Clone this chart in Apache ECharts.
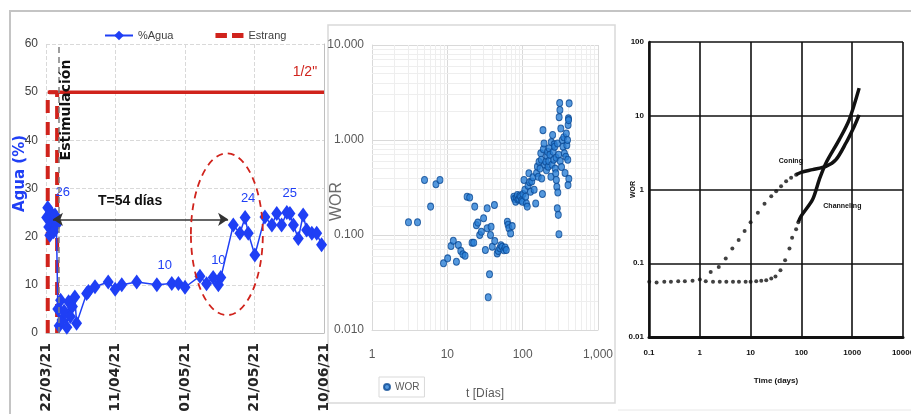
<!DOCTYPE html>
<html>
<head>
<meta charset="utf-8">
<script src="https://cdn.jsdelivr.net/npm/echarts@6/dist/echarts.min.js"></script>
<style>
  html, body { margin: 0; padding: 0; background: #ffffff; }
  #c { width: 911px; height: 414px; }
</style>
</head>
<body>
<div id="c"></div>
<script>
// ---------- Panel 1: % de agua vs fecha ----------
const fechaInicio = Date.UTC(2021, 2, 22);          // 22/03/21 = día 0
const ticksDias = [0, 20, 40, 60, 80];

const aguaDia = [0.2, 0.5, 0.8, 1.1, 1.4, 1.8, 2.2, 2.6, 3.0,
  3.4, 3.8, 4.2, 4.6, 5.2, 6.0, 6.5, 7.0, 7.6, 8.3, 8.8,
  11.7, 12.2, 14.1, 17.9, 19.9, 21.8, 26.1, 31.9, 36.2, 38.1, 40.0,
  44.3, 46.2, 48.1, 49.6, 50.3,
  53.9, 55.8, 57.3, 58.2, 60.1, 63.0, 65.0, 66.4, 67.8, 69.3, 70.2,
  71.2, 72.6, 74.0, 75.0, 76.5, 77.9, 79.3];
const aguaPct = [24, 26, 22, 20.3, 25, 23, 21, 24.5, 22.5,
  5, 1.5, 6.8, 2.7, 4.5, 1.2, 6.5, 3.4, 5.5, 7.5, 2,
  8.2, 8.6, 9.6, 10.6, 9.1, 10, 10.6, 10, 10.3, 10.3, 9.5,
  11.8, 10.2, 11.5, 10, 11.5,
  22.4, 20.7, 24, 20.7, 16.2, 24.1, 22.4, 24.8, 22.4, 25, 24.8,
  22.4, 19.6, 24.5, 21.4, 20.7, 20.7, 18.3];
// puntos rotulados con su valor
const aguaRotulados = [1, 27, 34, 38, 45];

// Estrangulador: bajada escalonada y tramo de 1/2"
const estrangDia = [0.5, 0.5, 3.2, 3.2];
const estrangVal = [0, 50, 50, 0];
const estrang12Dia = [0.5, 80];
const estrang12Val = [50, 50];
const diaEstimulacion = 3.8;
const flechaT = { desde: [2.0, 23.6], hasta: [52.4, 23.6], texto: 'T=54 días', pos: [24.2, 27.3] };
const elipse = { diaMin: 41.7, diaMax: 62.4, valMin: 3.7, valMax: 37.3 };

// ---------- Panel 2: WOR vs t [Días] ----------
const worT = [3.05, 4.02, 4.98, 6.0, 7.06, 7.98,
  8.9, 10.1, 11.2, 12.0, 13.2, 14.0, 15.1, 16.1, 17.2,
  18.3, 19.8, 21.3, 22.4, 23.1, 24.3, 25.4, 26.9, 28.3, 30.3, 32.0, 33.8, 33.8, 36.3, 34.9,
  37.4, 38.1, 39.5, 42.2, 42.6, 45.9, 47.5, 49.8, 51.5, 53.4, 56.4, 58.5, 60.6, 62.6, 64.0,
  65.8, 69.2, 72.6,
  76.3, 78, 80.8, 83, 85.1, 87, 89.6, 92, 94.2, 97, 99.1, 101, 104, 107, 109.6, 112, 115,
  118, 121, 124, 127, 132, 137, 142, 149, 153, 157, 161, 165, 170, 174, 177, 179, 183,
  186, 188, 192, 196, 203, 207, 210, 214, 218, 222, 225, 230, 237, 240, 245, 250, 254,
  258, 262, 266, 270, 275, 278, 280, 284, 288, 290, 293, 297, 300, 303, 305, 310, 312,
  315, 321, 328, 336, 344, 352, 358, 365, 374, 380, 386, 394, 397, 401, 405, 407, 414,
  410, 400];
const worVal = [0.136, 0.136, 0.38, 0.199, 0.342, 0.38,
  0.0504, 0.0568, 0.0766, 0.087, 0.0523, 0.0785, 0.068, 0.0627, 0.0606,
  0.253, 0.248, 0.083, 0.083, 0.199, 0.127, 0.135, 0.1, 0.108, 0.15, 0.0695, 0.191, 0.118, 0.0386, 0.0221,
  0.1, 0.122, 0.0752, 0.207, 0.0865, 0.064, 0.068, 0.0725, 0.078, 0.0752, 0.069, 0.074, 0.0695, 0.138, 0.128,
  0.118, 0.104, 0.124,
  0.253, 0.24, 0.224, 0.25, 0.264, 0.235, 0.24, 0.26, 0.253, 0.232, 0.224, 0.27, 0.38, 0.3, 0.253, 0.215, 0.199,
  0.33, 0.446, 0.36, 0.285, 0.366, 0.405, 0.3, 0.215, 0.45, 0.524, 0.41, 0.59, 0.5, 0.724, 0.62, 0.394, 0.27,
  1.27, 0.8, 0.92, 0.55, 0.59, 0.48, 0.68, 0.75, 0.524, 0.6, 0.818, 0.7, 0.41, 0.95, 0.55, 1.13, 0.75,
  0.62, 0.9, 0.85, 0.5, 0.446, 0.65, 0.38, 0.322, 0.191, 0.92, 0.28, 0.163, 0.7, 0.102, 1.74, 2.45, 2.07,
  0.6, 1.32, 0.52, 1.0, 0.85, 1.07, 0.724, 0.45, 0.667, 1.17, 0.88, 1.0, 0.62, 1.44, 1.69, 1.62, 2.43,
  0.39, 0.335];
// líneas secundarias de la rejilla logarítmica (2..9 de cada década)
const worRejillaX = [2, 3, 4, 5, 6, 7, 8, 9, 20, 30, 40, 50, 60, 70, 80, 90, 200, 300, 400, 500, 600, 700, 800, 900];
const worRejillaY = [0.02, 0.03, 0.04, 0.05, 0.06, 0.07, 0.08, 0.09, 0.2, 0.3, 0.4, 0.5, 0.6, 0.7, 0.8, 0.9, 2, 3, 4, 5, 6, 7, 8, 9];

// ---------- Panel 3: curvas tipo (Coning / Channeling) ----------
const chanPuntosT = [0.101, 0.141, 0.2, 0.27, 0.376, 0.508, 0.72, 1.0, 1.31, 1.82, 2.47, 3.33, 4.5, 5.9,
  7.98, 10, 12.9, 16.2, 20.3, 25.5, 30.9, 38.7, 47.8, 58.2, 65.6, 78.7, 87];
const chanPuntosW = [0.056, 0.055, 0.056, 0.056, 0.057, 0.057, 0.058, 0.06, 0.057, 0.056, 0.056, 0.056, 0.056, 0.056,
  0.056, 0.056, 0.057, 0.058, 0.059, 0.0622, 0.066, 0.0806, 0.11, 0.158, 0.222, 0.288, 0.361];
const chanCurvaT = [87, 98.6, 166, 225, 305, 556, 871, 1370];
const chanCurvaW = [0.361, 0.436, 0.732, 1.365, 2.29, 4.74, 8.8, 23.7];
const conPuntosT = [1.64, 2.36, 3.24, 4.37, 5.82, 7.62, 10, 13.9, 18.8, 25.5, 31.9, 39.8, 50, 62.7, 78.7];
const conPuntosW = [0.0763, 0.089, 0.116, 0.158, 0.207, 0.274, 0.361, 0.484, 0.64, 0.812, 0.95, 1.11, 1.29, 1.44, 1.59];
const conCurvaT = [78.7, 98.6, 166, 305, 479, 752, 1094, 1370];
const conCurvaW = [1.59, 1.71, 1.86, 2.06, 2.54, 4.27, 7.17, 10.3];
const rotuloConing = [62, 2.45];
const rotuloChanneling = [640, 0.6];

const SANS = "'Liberation Sans Narrow','Liberation Sans',Arial,sans-serif";
const AZUL = '#1f3ff5';
const ROJO = '#d0231c';

const pares = (xs, ys) => xs.map((x, i) => [x, ys[i]]);
const dos = n => (n < 10 ? '0' : '') + n;
const diaAFecha = d => {
  const t = new Date(fechaInicio + d * 86400000);
  return dos(t.getUTCDate()) + '/' + dos(t.getUTCMonth() + 1) + '/' + String(t.getUTCFullYear()).slice(2);
};

const rotuloOffset = { 1: [15, 4], 27: [8, 0], 34: [0, -5], 38: [3, 0], 45: [3, 0] };
const aguaData = aguaDia.map((d, i) => {
  const item = { value: [d, aguaPct[i]] };
  if (aguaRotulados.includes(i)) {
    item.label = {
      show: true, position: 'top', offset: rotuloOffset[i],
      formatter: p => String(p.value[1]),
      color: AZUL, fontSize: 13, fontFamily: SANS
    };
  }
  return item;
});

const chart = echarts.init(document.getElementById('c'));

const logFmt3 = v => v >= 1000 ? '1,000' : String(v);

chart.setOption({
  animation: false,
  backgroundColor: '#ffffff',
  textStyle: { fontFamily: SANS },
  grid: [
    { left: 46, top: 44, width: 278, height: 289, outerBoundsMode: 'none', containLabel: false },
    { left: 372, top: 45, width: 226, height: 285, outerBoundsMode: 'none', containLabel: false },
    { left: 649, top: 42, width: 254, height: 295, outerBoundsMode: 'none', containLabel: false }
  ],
  legend: [
    {
      data: [
        { name: '%Agua' },
        { name: 'Estrang', icon: 'path://M0,0H9V4H0Z M13,0H22V4H13Z', itemStyle: { color: ROJO } }
      ],
      left: 99, top: 25, itemGap: 42, itemWidth: 28, itemHeight: 12,
      textStyle: { color: '#404040', fontSize: 11, fontFamily: SANS }, selectedMode: false
    },
    {
      data: ['WOR'], left: 379, top: 377, itemWidth: 6, itemHeight: 8, padding: [5, 5, 5, 4],
      borderColor: '#d9d9d9', borderWidth: 1, icon: 'circle', itemGap: 4,
      textStyle: { color: '#595959', fontSize: 10, fontFamily: SANS }, selectedMode: false
    }
  ],
  xAxis: [
    {
      gridIndex: 0, type: 'value', min: 0, max: 80, interval: 20,
      axisLine: { show: true, lineStyle: { color: '#bfbfbf' } },
      axisTick: { show: false },
      splitLine: { show: true, lineStyle: { color: '#d9d9d9', type: 'dashed' } },
      axisLabel: {
        rotate: 90, margin: 10, fontSize: 14, fontWeight: 'bold', color: '#262626',
        fontFamily: "'DejaVu Sans',sans-serif", formatter: v => diaAFecha(v)
      }
    },
    {
      gridIndex: 1, type: 'log', logBase: 10, min: 1, max: 1000,
      axisLine: { show: true, lineStyle: { color: '#d9d9d9' } },
      axisTick: { show: false },
      splitLine: { show: true, lineStyle: { color: '#d9d9d9' } },
      axisLabel: { margin: 19, fontSize: 12, color: '#595959', fontFamily: SANS, formatter: logFmt3 },
      name: 't [Días]', nameLocation: 'middle', nameGap: 58, nameMoveOverlap: false,
      nameTextStyle: { color: '#595959', fontSize: 12, fontFamily: SANS }
    },
    {
      gridIndex: 2, type: 'log', logBase: 10, min: 0.1, max: 10000,
      axisLine: { show: true, lineStyle: { color: '#111', width: 3 } },
      axisTick: { show: false },
      splitLine: { show: true, lineStyle: { color: '#111', width: 1.6 } },
      axisLabel: {
        margin: 12, fontSize: 8, fontWeight: 'bold', color: '#111', fontFamily: SANS,
        formatter: v => String(v)
      },
      name: 'Time (days)', nameLocation: 'middle', nameGap: 40, nameMoveOverlap: false,
      nameTextStyle: { color: '#111', fontSize: 8, fontWeight: 'bold', fontFamily: SANS }
    }
  ],
  yAxis: [
    {
      gridIndex: 0, type: 'value', min: 0, max: 60, interval: 10,
      axisLine: { show: false }, axisTick: { show: false },
      splitLine: { show: true, lineStyle: { color: '#d9d9d9', type: 'dashed' } },
      axisLabel: { margin: 8, fontSize: 12, color: '#404040', fontFamily: SANS },
      name: 'Agua (%)', nameLocation: 'middle', nameGap: 18, nameRotate: 90, nameMoveOverlap: false,
      nameTextStyle: { color: AZUL, fontSize: 15, fontWeight: 'bold', fontFamily: "'DejaVu Sans',sans-serif", padding: [0, 0, 0, 30] }
    },
    {
      gridIndex: 0, type: 'value', min: 0, max: 60, interval: 10, position: 'right',
      axisLine: { show: true, lineStyle: { color: '#bfbfbf' } },
      axisTick: { show: false }, axisLabel: { show: false }, splitLine: { show: false }
    },
    {
      gridIndex: 1, type: 'log', logBase: 10, min: 0.01, max: 10,
      axisLine: { show: true, lineStyle: { color: '#d9d9d9' } },
      axisTick: { show: false },
      splitLine: { show: true, lineStyle: { color: '#d9d9d9' } },
      axisLabel: { margin: 8, fontSize: 12, color: '#595959', fontFamily: SANS, formatter: v => v.toFixed(3) },
      name: 'WOR', nameLocation: 'middle', nameGap: 27, nameRotate: 90, nameMoveOverlap: false,
      nameTextStyle: { color: '#6b6b6b', fontSize: 16, fontFamily: SANS, padding: [0, 28, 0, 0] }
    },
    {
      gridIndex: 2, type: 'log', logBase: 10, min: 0.01, max: 100,
      axisLine: { show: true, lineStyle: { color: '#111', width: 2.5 } },
      axisTick: { show: false },
      splitLine: { show: true, lineStyle: { color: '#111', width: 1.6 } },
      axisLabel: { margin: 5, fontSize: 8, fontWeight: 'bold', color: '#111', fontFamily: SANS, formatter: v => String(v) },
      name: 'WOR', nameLocation: 'middle', nameGap: 12, nameRotate: 90, nameMoveOverlap: false,
      nameTextStyle: { color: '#111', fontSize: 7, fontWeight: 'bold', fontFamily: SANS }
    }
  ],
  series: [
    // Estrangulador (escalón)
    {
      name: 'Estrang', type: 'line', xAxisIndex: 0, yAxisIndex: 0,
      data: pares(estrangDia, estrangVal), symbol: 'none',
      lineStyle: { color: ROJO, width: 4, type: [13, 9] }, itemStyle: { color: ROJO }, z: 3
    },
    // Estrangulador 1/2"
    {
      name: '1/2"', type: 'line', xAxisIndex: 0, yAxisIndex: 0,
      data: pares(estrang12Dia, estrang12Val), symbol: 'none',
      lineStyle: { color: ROJO, width: 3.5 }, itemStyle: { color: ROJO }, z: 3,
      markLine: {
        silent: true, symbol: 'none', label: { show: false },
        lineStyle: { color: '#7f7f7f', type: [6, 4], width: 1.5 },
        data: [{ xAxis: diaEstimulacion }]
      },
      markPoint: {
        symbol: 'circle', symbolSize: 0, silent: true,
        data: [
          {
            coord: [74.5, 54.1],
            label: { show: true, position: 'inside', formatter: '1/2"', color: ROJO, fontSize: 14, fontFamily: SANS }
          },
          {
            coord: [5.8, 46.3],
            label: {
              show: true, position: 'inside', formatter: 'Estimulación', rotate: 90,
              color: '#111', fontSize: 14, fontWeight: 'bold', fontFamily: "'DejaVu Sans',sans-serif"
            }
          }
        ]
      }
    },
    // %Agua
    {
      name: '%Agua', type: 'line', xAxisIndex: 0, yAxisIndex: 0,
      data: aguaData, symbol: 'diamond', symbolSize: [11, 15],
      lineStyle: { color: AZUL, width: 1.5 }, itemStyle: { color: AZUL }, z: 4,
      markLine: {
        silent: true, symbol: ['arrow', 'arrow'], symbolSize: [10, 10],
        label: { show: false },
        lineStyle: { color: '#333', type: 'solid', width: 1.5 },
        data: [[{ coord: flechaT.desde }, { coord: flechaT.hasta }]]
      },
      markPoint: {
        symbol: 'circle', symbolSize: 0, silent: true,
        data: [{
          coord: flechaT.pos,
          label: { show: true, position: 'inside', formatter: flechaT.texto, color: '#111', fontSize: 14, fontWeight: 'bold', fontFamily: SANS }
        }]
      }
    },
    // rejilla secundaria del panel WOR
    {
      name: 'rejilla', type: 'line', xAxisIndex: 1, yAxisIndex: 2, data: [], z: 1, silent: true,
      markLine: {
        silent: true, symbol: 'none', label: { show: false },
        lineStyle: { color: '#eeeeee', type: 'solid', width: 1 },
        data: worRejillaX.map(v => ({ xAxis: v })).concat(worRejillaY.map(v => ({ yAxis: v })))
      }
    },
    // WOR (dispersión)
    {
      name: 'WOR', type: 'scatter', xAxisIndex: 1, yAxisIndex: 2,
      data: pares(worT, worVal), symbol: 'circle', symbolSize: [6, 7],
      itemStyle: { color: '#2a80d6', borderColor: '#0b4a95', borderWidth: 1 }, z: 5
    },
    // Channeling: puntos y tramo continuo
    {
      name: 'Channeling', type: 'scatter', xAxisIndex: 2, yAxisIndex: 3,
      data: pares(chanPuntosT, chanPuntosW), symbol: 'circle', symbolSize: 4,
      itemStyle: { color: '#111' }
    },
    {
      name: 'Channeling ', type: 'line', xAxisIndex: 2, yAxisIndex: 3,
      data: pares(chanCurvaT, chanCurvaW), symbol: 'none', smooth: 0.3,
      lineStyle: { color: '#111', width: 3.5 },
      markPoint: {
        symbol: 'circle', symbolSize: 0, silent: true,
        data: [{ coord: rotuloChanneling, label: { show: true, position: 'inside', formatter: 'Channeling', color: '#111', fontSize: 7, fontWeight: 'bold', fontFamily: SANS } }]
      }
    },
    // Coning: puntos y tramo continuo
    {
      name: 'Coning', type: 'scatter', xAxisIndex: 2, yAxisIndex: 3,
      data: pares(conPuntosT, conPuntosW), symbol: 'circle', symbolSize: 4,
      itemStyle: { color: '#111' }
    },
    {
      name: 'Coning ', type: 'line', xAxisIndex: 2, yAxisIndex: 3,
      data: pares(conCurvaT, conCurvaW), symbol: 'none', smooth: 0.3,
      lineStyle: { color: '#111', width: 3.5 },
      markPoint: {
        symbol: 'circle', symbolSize: 0, silent: true,
        data: [{ coord: rotuloConing, label: { show: true, position: 'inside', formatter: 'Coning', color: '#111', fontSize: 7, fontWeight: 'bold', fontFamily: SANS } }]
      }
    }
  ]
});

// Marco de los paneles y elipse de la zona de cambio
const c0 = chart.convertToPixel({ gridIndex: 0 }, [(elipse.diaMin + elipse.diaMax) / 2, (elipse.valMin + elipse.valMax) / 2]);
const pL = chart.convertToPixel({ gridIndex: 0 }, [elipse.diaMin, elipse.valMin]);
const pR = chart.convertToPixel({ gridIndex: 0 }, [elipse.diaMax, elipse.valMax]);

chart.setOption({
  graphic: [
    { type: 'rect', z: -10, silent: true, shape: { x: 328, y: 25, width: 287, height: 378 },
      style: { fill: '#ffffff', stroke: '#d9d9d9', lineWidth: 1.5 } },
    { type: 'line', z: 10, silent: true, shape: { x1: 9, y1: 11, x2: 911, y2: 11 },
      style: { stroke: '#c4c4c4', lineWidth: 2 } },
    { type: 'line', z: 10, silent: true, shape: { x1: 10, y1: 11, x2: 10, y2: 414 },
      style: { stroke: '#c4c4c4', lineWidth: 2 } },
    { type: 'line', z: 10, silent: true, shape: { x1: 618, y1: 410, x2: 911, y2: 410 },
      style: { stroke: '#e8e8e8', lineWidth: 1 } },
    { type: 'ellipse', z: 20, silent: true,
      shape: { cx: c0[0], cy: c0[1], rx: Math.abs(pR[0] - pL[0]) / 2, ry: Math.abs(pL[1] - pR[1]) / 2 },
      style: { fill: 'none', stroke: ROJO, lineWidth: 1.8, lineDash: [7, 5] } }
  ]
});
</script>
</body>
</html>
